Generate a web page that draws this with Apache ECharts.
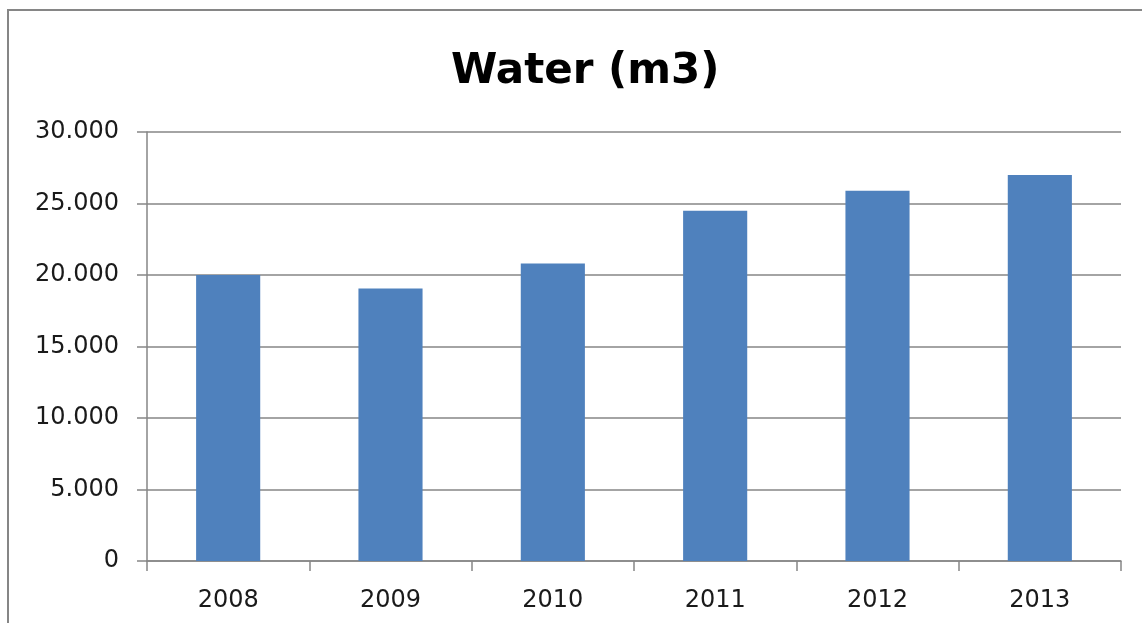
<!DOCTYPE html>
<html>
<head>
<meta charset="utf-8">
<script src="https://cdn.jsdelivr.net/npm/echarts@6/dist/echarts.min.js"></script>
<style>
  html, body { margin: 0; padding: 0; background: #fff; }
  #chart { width: 1142px; height: 623px; }
</style>
</head>
<body>
<div id="chart"></div>
<script>
var years = ['2008', '2009', '2010', '2011', '2012', '2013'];
var water = [20000, 19050, 20800, 24500, 25900, 27000];
var yTicks = [0, 5000, 10000, 15000, 20000, 25000, 30000];

var myChart = echarts.init(document.getElementById('chart'));

// 20000 -> "20.000"
function fmt(v) {
	return String(v).replace(/\B(?=(\d{3})+(?!\d))/g, '.');
}

var option = {
	animation: false,
	graphic: [{
		type: 'rect',
		shape: { x: 8, y: 10, width: 1200, height: 700 },
		style: { fill: 'none', stroke: '#868686', lineWidth: 2 },
		silent: true
	}],
	title: {
		text: 'Water (m3)',
		left: 446,
		top: 46,
		textStyle: {
			fontFamily: 'DejaVu Sans',
			fontWeight: 'bold',
			fontSize: 42,
			color: '#000'
		}
	},
	grid: {
		left: 147,
		right: 21,
		top: 132,
		bottom: 62
	},
	xAxis: {
		type: 'category',
		data: years,
		axisLine: { lineStyle: { color: '#868686', width: 1.5 } },
		axisTick: { show: true, length: 10, lineStyle: { color: '#868686', width: 1.5 } },
		axisLabel: {
			margin: 28,
			color: '#1a1a1a',
			fontFamily: 'DejaVu Sans',
			fontSize: 24
		}
	},
	yAxis: {
		type: 'value',
		min: yTicks[0],
		max: yTicks[yTicks.length - 1],
		interval: 5000,
		axisLine: { show: true, lineStyle: { color: '#868686', width: 1.5 } },
		axisTick: { show: true, length: 10, lineStyle: { color: '#868686', width: 1.5 } },
		splitLine: { lineStyle: { color: '#868686', width: 1.5 } },
		axisLabel: {
			margin: 28,
			color: '#1a1a1a',
			fontFamily: 'DejaVu Sans',
			fontSize: 24,
			formatter: function (v) { return fmt(v); }
		}
	},
	series: [{
		name: 'Water',
		type: 'bar',
		data: water,
		barWidth: '39.5%',
		itemStyle: { color: '#4F81BD' }
	}]
};

myChart.setOption(option);
</script>
</body>
</html>
